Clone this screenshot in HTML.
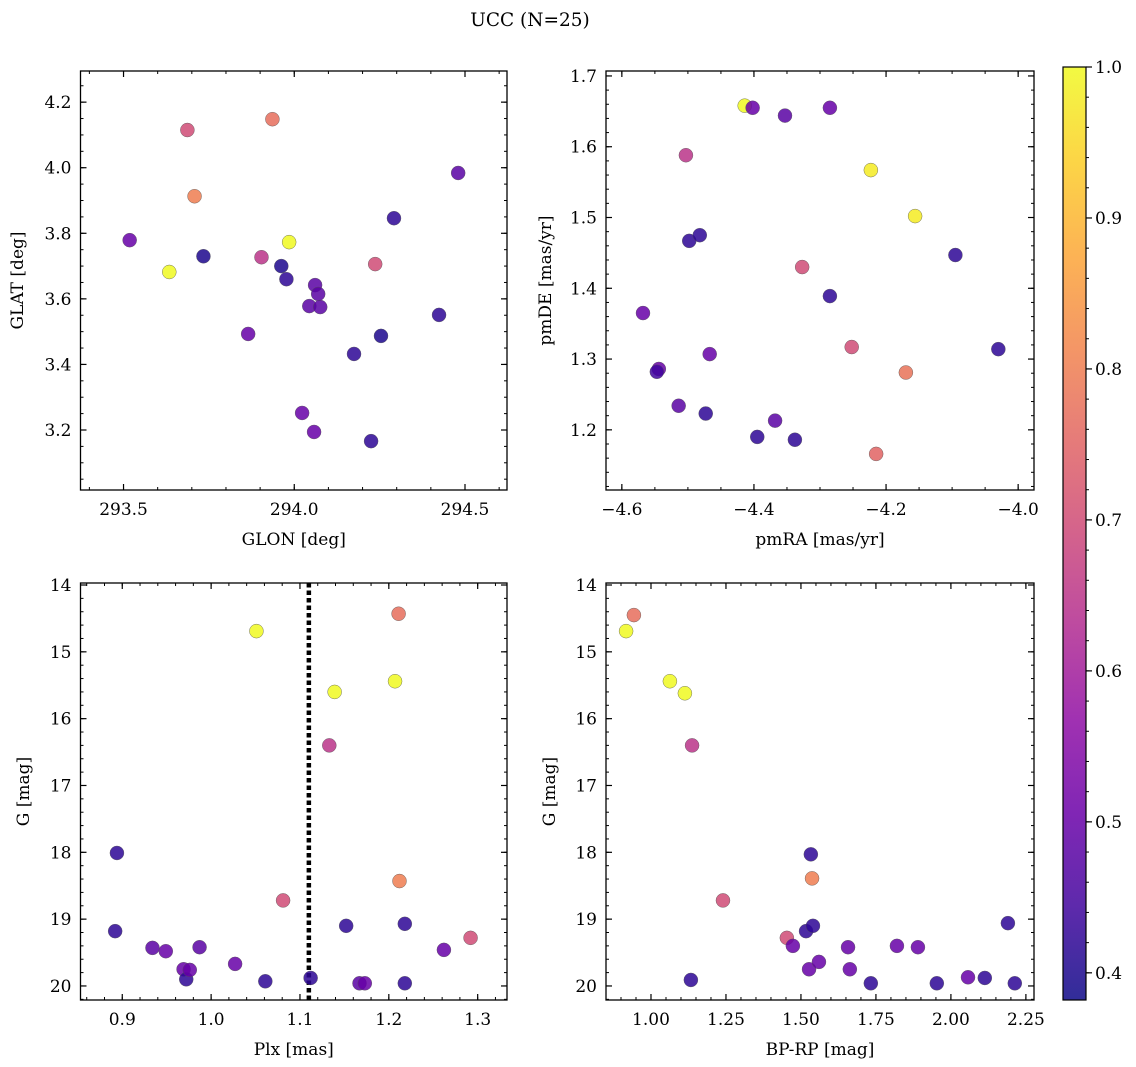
<!DOCTYPE html>
<html><head><meta charset="utf-8">
<style>
body{margin:0;background:#fff;}
svg{display:block;font-family:"DejaVu Serif","Liberation Serif",serif;}
</style></head>
<body>
<svg id="fig" width="1136" height="1067" viewBox="0 0 1136 1067" xmlns="http://www.w3.org/2000/svg">
<text x="530" y="26" font-size="18.5" text-anchor="middle">UCC (N=25)</text>
</svg>
<script>
// ---- data ----
const glon = [293.518,293.634,293.687,293.708,293.734,293.865,293.904,293.936,293.962,293.977,293.985,294.023,294.044,294.058,294.061,294.070,294.076,294.175,294.237,294.254,294.225,294.292,294.424,294.480];
const glat = [3.779,3.682,4.115,3.913,3.730,3.493,3.727,4.148,3.700,3.660,3.773,3.252,3.578,3.194,3.642,3.615,3.575,3.432,3.706,3.487,3.166,3.846,3.551,3.984];
const prob1 = [0.5,1.0,0.7,0.8,0.4,0.5,0.65,0.77,0.4,0.42,1.0,0.5,0.48,0.5,0.48,0.48,0.48,0.42,0.7,0.4,0.42,0.42,0.42,0.48];

const pmra = [-4.414,-4.402,-4.353,-4.285,-4.503,-4.223,-4.156,-4.498,-4.482,-4.095,-4.327,-4.285,-4.568,-4.544,-4.547,-4.467,-4.252,-4.170,-4.030,-4.514,-4.473,-4.395,-4.368,-4.338,-4.215];
const pmde = [1.658,1.655,1.644,1.655,1.588,1.567,1.502,1.467,1.475,1.447,1.430,1.389,1.365,1.286,1.282,1.307,1.317,1.281,1.314,1.234,1.223,1.190,1.213,1.186,1.166];
const prob2 = [1.0,0.5,0.48,0.5,0.65,0.98,0.98,0.42,0.42,0.42,0.7,0.42,0.5,0.5,0.44,0.5,0.7,0.78,0.42,0.48,0.42,0.42,0.48,0.42,0.75];

const plx = [0.894,0.892,0.934,0.949,0.969,0.972,0.976,0.987,1.027,1.051,1.061,1.081,1.112,1.133,1.139,1.152,1.167,1.173,1.207,1.211,1.212,1.218,1.218,1.262,1.292];
const gmag3 = [18.01,19.18,19.43,19.48,19.75,19.90,19.76,19.42,19.67,14.69,19.93,18.72,19.88,16.40,15.60,19.10,19.96,19.96,15.44,14.43,18.43,19.07,19.96,19.46,19.28];
const prob3 = [0.42,0.42,0.48,0.5,0.5,0.42,0.5,0.48,0.5,1.0,0.42,0.7,0.42,0.65,1.0,0.42,0.48,0.5,1.0,0.77,0.8,0.42,0.42,0.5,0.7];
const plxLine = 1.11;

const bprp = [0.917,0.943,1.063,1.113,1.137,1.24,1.453,1.473,1.533,1.537,1.517,1.54,1.133,1.527,1.56,1.657,1.663,1.733,1.82,1.89,1.953,2.057,2.113,2.19,2.213];
const gmag4 = [14.69,14.45,15.44,15.62,16.40,18.72,19.28,19.40,18.03,18.39,19.18,19.10,19.91,19.75,19.64,19.42,19.75,19.96,19.40,19.42,19.96,19.87,19.88,19.06,19.96];
const prob4 = [1.0,0.77,1.0,1.0,0.65,0.7,0.7,0.5,0.42,0.8,0.42,0.42,0.42,0.5,0.5,0.5,0.5,0.42,0.5,0.5,0.42,0.5,0.42,0.42,0.42];

const cbTicks = [0.4,0.5,0.6,0.7,0.8,0.9,1.0];
const cbMin = 0.382, cbMax = 1.0;

// ---- helpers ----
const NS = "http://www.w3.org/2000/svg";
const svg = document.getElementById('fig');
const FS = 17;
function mk(tag, attrs, parent){const e=document.createElementNS(NS,tag);for(const k in attrs)e.setAttribute(k,attrs[k]);(parent||svg).appendChild(e);return e;}
const stops=["#0d0887","#41049d","#6a00a8","#8f0da4","#b12a90","#cc4778","#e16462","#f2844b","#fca636","#fcce25","#f0f921"];
function hex(h){return [1,3,5].map(i=>parseInt(h.substr(i,2),16));}
function plasma(t){t=Math.max(0,Math.min(1,t));const f=t*10;const i=Math.min(9,Math.floor(f));const r=f-i;const a=hex(stops[i]),b=hex(stops[i+1]);return 'rgb('+a.map((v,k)=>Math.round(v+(b[k]-v)*r)).join(',')+')';}
function fmt(v,d){return (v<0?'\u2212':'')+Math.abs(v).toFixed(d);}

function panel(o){
  const g=mk('g',{});
  
  
  const sx=v=>o.x0+(v-o.xmin)/(o.xmax-o.xmin)*(o.x1-o.x0);
  const sy=o.invert? v=>o.y0+(v-o.ymin)/(o.ymax-o.ymin)*(o.y1-o.y0) : v=>o.y1-(v-o.ymin)/(o.ymax-o.ymin)*(o.y1-o.y0);
  const eps=1e-9;
  function ticks(min,max,step){const a=[];for(let v=Math.ceil(min/step-eps)*step;v<=max+eps;v+=step)a.push(+v.toFixed(6));return a;}
  ticks(o.xmin,o.xmax,o.xminor).forEach(v=>{const x=sx(v);mk('line',{x1:x,x2:x,y1:o.y1,y2:o.y1-3,stroke:'#000','stroke-width':1},g);mk('line',{x1:x,x2:x,y1:o.y0,y2:o.y0+3,stroke:'#000','stroke-width':1},g);});
  ticks(o.ymin,o.ymax,o.yminor).forEach(v=>{const y=sy(v);mk('line',{x1:o.x0,x2:o.x0+3,y1:y,y2:y,stroke:'#000','stroke-width':1},g);mk('line',{x1:o.x1,x2:o.x1-3,y1:y,y2:y,stroke:'#000','stroke-width':1},g);});
  ticks(o.xmin,o.xmax,o.xmajor).forEach(v=>{const x=sx(v);mk('line',{x1:x,x2:x,y1:o.y1,y2:o.y1-6,stroke:'#000','stroke-width':1.2},g);mk('line',{x1:x,x2:x,y1:o.y0,y2:o.y0+6,stroke:'#000','stroke-width':1.2},g);
    const t=mk('text',{x:x,y:o.y1+25,'font-size':FS,'text-anchor':'middle'},g);t.textContent=fmt(v,o.xd);
    });
  ticks(o.ymin,o.ymax,o.ymajor).forEach(v=>{const y=sy(v);mk('line',{x1:o.x0,x2:o.x0+6,y1:y,y2:y,stroke:'#000','stroke-width':1.2},g);mk('line',{x1:o.x1,x2:o.x1-6,y1:y,y2:y,stroke:'#000','stroke-width':1.2},g);
    const t=mk('text',{x:o.x0-9,y:y+6,'font-size':FS,'text-anchor':'end'},g);t.textContent=fmt(v,o.yd);
    });
  const xl=mk('text',{x:(o.x0+o.x1)/2,y:o.y1+55,'font-size':FS,'text-anchor':'middle'},g);xl.textContent=o.xlabel;
  
  const yx=o.ylx, yy=(o.y0+o.y1)/2;
  const yl=mk('text',{x:yx,y:yy,'font-size':FS,'text-anchor':'middle',transform:'rotate(-90 '+yx+' '+yy+')'},g);yl.textContent=o.ylabel;
  
  if(o.vline!==undefined){const x=sx(o.vline);const l=mk('line',{x1:x,x2:x,y1:o.y0,y2:o.y1,stroke:'#000','stroke-width':4.5,'stroke-dasharray':'4.5 3'},g);
    }
  o.xs.forEach((v,i)=>{
    const c=mk('circle',{cx:sx(v),cy:sy(o.ys[i]),r:7,fill:plasma((o.cs[i]-cbMin)/(cbMax-cbMin)),'fill-opacity':0.85,stroke:'#555','stroke-width':0.4},g);
    
    
  });
  const fr=mk('rect',{x:o.x0,y:o.y0,width:o.x1-o.x0,height:o.y1-o.y0,fill:'none',stroke:'#000','stroke-width':1.3},g);
  
}

panel({name:'glon-glat-panel',x0:80.5,x1:507,y0:71,y1:490,xmin:293.374,xmax:294.623,ymin:3.017,ymax:4.295,xmajor:0.5,xminor:0.1,ymajor:0.2,yminor:0.05,xd:1,yd:1,xlabel:'GLON [deg]',ylabel:'GLAT [deg]',ylx:23,xs:glon,ys:glat,cs:prob1});
panel({name:'pm-panel',x0:606,x1:1034,y0:71,y1:490,xmin:-4.624,xmax:-3.976,ymin:1.115,ymax:1.707,xmajor:0.2,xminor:0.05,ymajor:0.1,yminor:0.02,xd:1,yd:1,xlabel:'pmRA [mas/yr]',ylabel:'pmDE [mas/yr]',ylx:551,xs:pmra,ys:pmde,cs:prob2});
panel({name:'plx-g-panel',x0:80.5,x1:507,y0:583,y1:1000,xmin:0.853,xmax:1.333,ymin:13.97,ymax:20.21,invert:true,xmajor:0.1,xminor:0.02,ymajor:1,yminor:0.2,xd:1,yd:0,xlabel:'Plx [mas]',ylabel:'G [mag]',ylx:29,xs:plx,ys:gmag3,cs:prob3,vline:plxLine});
panel({name:'cmd-panel',x0:606,x1:1034,y0:583,y1:1000,xmin:0.85,xmax:2.277,ymin:13.97,ymax:20.21,invert:true,xmajor:0.25,xminor:0.05,ymajor:1,yminor:0.2,xd:2,yd:0,xlabel:'BP-RP [mag]',ylabel:'G [mag]',ylx:555,xs:bprp,ys:gmag4,cs:prob4});

// colorbar
const cb=mk('g',{});


const defs=mk('defs',{},cb);
const lg=mk('linearGradient',{id:'cbg',x1:0,y1:1,x2:0,y2:0},defs);
stops.forEach((s,i)=>mk('stop',{offset:i/10,'stop-color':s,'stop-opacity':0.85},lg));
const cx0=1063,cx1=1086,cy0=67,cy1=1000;
mk('rect',{x:cx0,y:cy0,width:cx1-cx0,height:cy1-cy0,fill:'url(#cbg)',stroke:'#000','stroke-width':1.2},cb);
const cy=v=>cy1-(v-cbMin)/(cbMax-cbMin)*(cy1-cy0);
for(let v=0.4;v<=1.0001;v+=0.02){const y=cy(v);mk('line',{x1:cx1,x2:cx1+3,y1:y,y2:y,stroke:'#000','stroke-width':1},cb);}
cbTicks.forEach(v=>{const y=cy(v);mk('line',{x1:cx1,x2:cx1+6,y1:y,y2:y,stroke:'#000','stroke-width':1.2},cb);
  const t=mk('text',{x:cx1+9,y:y+6,'font-size':FS},cb);t.textContent=v.toFixed(1);
  });
</script>
</body></html>
